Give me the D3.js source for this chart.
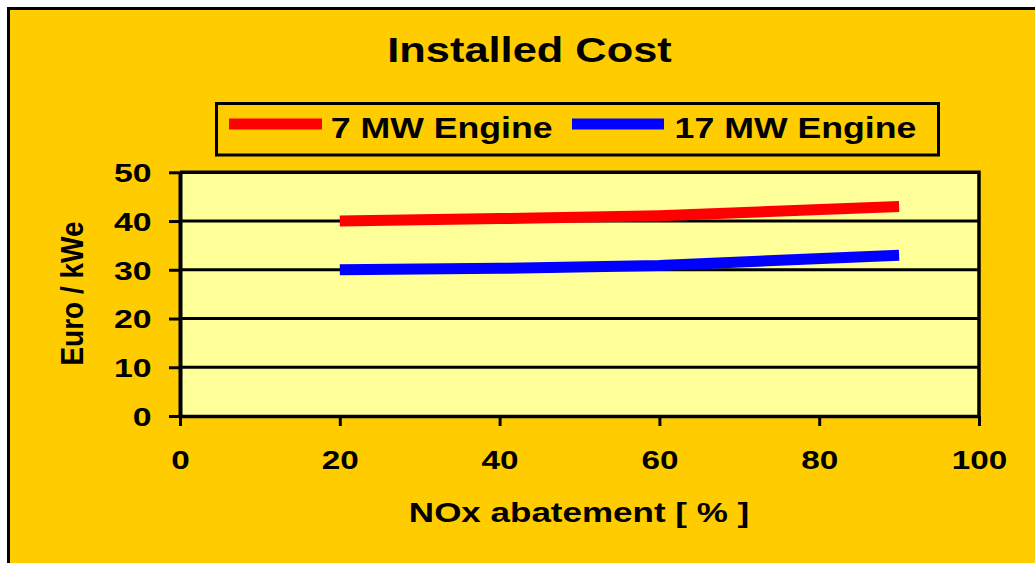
<!DOCTYPE html>
<html>
<head>
<meta charset="utf-8">
<script src="https://cdn.jsdelivr.net/npm/d3@7"></script>
<style>
  html, body { margin: 0; padding: 0; background: #ffffff; }
  svg { display: block; }
  text { font-family: "Liberation Sans", Arial, sans-serif; font-weight: bold; fill: #000; }
</style>
</head>
<body>
<svg id="chart" width="1035" height="563"></svg>
<script>
// ---- data ----
const xValues = [20, 40, 60, 90];
const engine7 = [40, 40.5, 41.1, 43];
const engine17 = [30, 30.3, 30.9, 33];
const seriesNames = ["7 MW Engine", "17 MW Engine"];
const seriesColors = ["#FF0000", "#0000FF"];
const xTicks = [0, 20, 40, 60, 80, 100];
const yTicks = [0, 10, 20, 30, 40, 50];
const titleText = "Installed Cost";
const xTitle = "NOx abatement [ % ]";
const yTitle = "Euro / kWe";

// ---- layout ----
const W = 1035, H = 563;
const plot = { left: 180, right: 979, top: 172.3, bottom: 416 };
const SX = 1.25; // horizontal text stretch as in the reference

const svg = d3.select("#chart");

// outer background with border
svg.append("rect")
  .attr("x", 8.5).attr("y", 8.5)
  .attr("width", W + 20).attr("height", H + 20)
  .attr("fill", "#FFCC00")
  .attr("stroke", "#000").attr("stroke-width", 3);

const x = d3.scaleLinear().domain([0, 100]).range([plot.left, plot.right]);
const y = d3.scaleLinear().domain([0, 50]).range([plot.bottom, plot.top]);

// plot area
svg.append("rect")
  .attr("x", plot.left).attr("y", plot.top)
  .attr("width", plot.right - plot.left).attr("height", plot.bottom - plot.top)
  .attr("fill", "#FFFF99");

// gridlines
svg.append("g")
  .selectAll("line")
  .data(yTicks.filter(d => d > 0 && d < 50))
  .join("line")
  .attr("x1", plot.left).attr("x2", plot.right)
  .attr("y1", d => y(d)).attr("y2", d => y(d))
  .attr("stroke", "#000").attr("stroke-width", 3);

// frame top/right
svg.append("path")
  .attr("d", `M${plot.left},${plot.top}H${plot.right}V${plot.bottom}`)
  .attr("fill", "none").attr("stroke", "#000").attr("stroke-width", 3.5);

// y axis
const yAxis = svg.append("g")
  .attr("transform", `translate(${plot.left},0)`)
  .call(d3.axisLeft(y).tickValues(yTicks).tickSize(11).tickPadding(0).tickSizeOuter(0));
yAxis.select(".domain").attr("stroke", "#000").attr("stroke-width", 4);
yAxis.selectAll(".tick line").attr("stroke", "#000").attr("stroke-width", 3);
yAxis.selectAll(".tick text")
  .attr("x", -28.5 / 1.3)
  .attr("dy", "0.36em")
  .attr("transform", "scale(1.3,1)")
  .style("font-size", "26px")
  .style("font-family", "'Liberation Sans', Arial, sans-serif")
  .style("font-weight", "bold")
  .attr("fill", "#000");

// x axis
const xAxis = svg.append("g")
  .attr("transform", `translate(0,${plot.bottom})`)
  .call(d3.axisBottom(x).tickValues(xTicks).tickSize(10).tickSizeOuter(0));
xAxis.select(".domain").attr("stroke", "#000").attr("stroke-width", 3.5);
xAxis.selectAll(".tick line").attr("stroke", "#000").attr("stroke-width", 3);
xAxis.selectAll(".tick text")
  .attr("y", 53)
  .attr("dy", "0")
  .attr("transform", "scale(1.28,1)")
  .style("font-size", "26px")
  .style("font-family", "'Liberation Sans', Arial, sans-serif")
  .style("font-weight", "bold")
  .attr("fill", "#000");

// lines
const lineGen = d3.line().x(d => x(d[0])).y(d => y(d[1]));
const seriesData = [engine7, engine17].map(vals => vals.map((v, i) => [xValues[i], v]));
svg.append("g")
  .selectAll("path")
  .data(seriesData)
  .join("path")
  .attr("d", lineGen)
  .attr("fill", "none")
  .attr("stroke", (d, i) => seriesColors[i])
  .attr("stroke-width", 11)
  .attr("stroke-linecap", "butt")
  .attr("stroke-linejoin", "round");

// title
svg.append("text")
  .attr("transform", `translate(529.5,62.3) scale(1.24,1)`)
  .attr("text-anchor", "middle")
  .style("font-size", "35px")
  .text(titleText);

// axis titles
svg.append("text")
  .attr("transform", `translate(579,521.7) scale(${SX},1)`)
  .attr("text-anchor", "middle")
  .style("font-size", "28px")
  .text(xTitle);

svg.append("text")
  .attr("transform", `translate(83,293.5) scale(1.1,1) rotate(-90)`)
  .attr("text-anchor", "middle")
  .style("font-size", "28px")
  .text(yTitle);

// legend
const legend = svg.append("g");
legend.append("rect")
  .attr("x", 216.5).attr("y", 103.5)
  .attr("width", 722).attr("height", 51.5)
  .attr("fill", "none").attr("stroke", "#000").attr("stroke-width", 3);
const legendItems = [
  { sx: 229, ex: 322, tx: 330.7 },
  { sx: 572, ex: 664, tx: 674.6 }
];
legendItems.forEach((it, i) => {
  legend.append("line")
    .attr("x1", it.sx).attr("x2", it.ex)
    .attr("y1", 124).attr("y2", 124)
    .attr("stroke", seriesColors[i]).attr("stroke-width", 11);
  legend.append("text")
    .attr("transform", `translate(${it.tx},138.3) scale(1.23,1)`)
    .style("font-size", "29px")
    .text(seriesNames[i]);
});
</script>
</body>
</html>
